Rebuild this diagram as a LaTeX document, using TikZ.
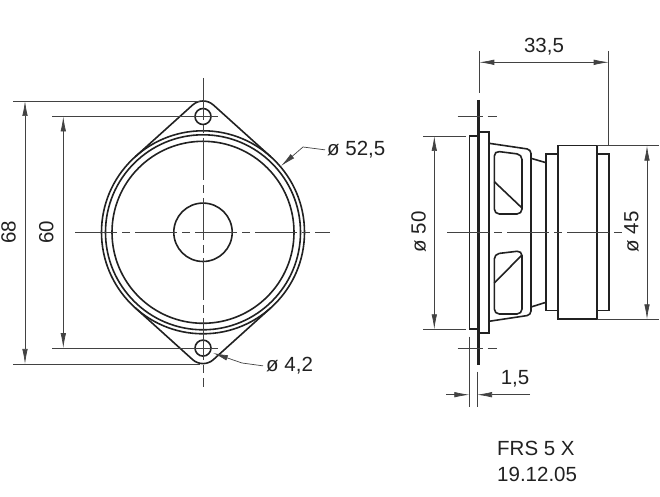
\documentclass[tikz,border=0pt]{standalone}
\usepackage{fontspec}
\setmainfont{Liberation Sans}
\usetikzlibrary{arrows.meta}
\definecolor{inkline}{gray}{0.13}
\tikzset{
  outline/.style = {draw = inkline, line width = 1.6pt},
  plate/.style = {draw = inkline, line width = 3.4pt},
  thinline/.style = {draw = inkline!85, line width = 0.7pt},
  axisline/.style = {thinline, dash pattern = on 42pt off 5pt on 8pt off 5pt},
  tickline/.style = {thinline, dash pattern = on 25pt off 5pt on 10pt off 5pt},
  dimline/.style = {thinline, {Latex[length = 15pt, width = 5.5pt]}-{Latex[length = 15pt, width = 5.5pt]}},
  leaderline/.style = {thinline, -{Latex[length = 15pt, width = 5.5pt]}},
  dimtext/.style = {inner sep = 0pt, text = inkline, font = \fontsize{20.5}{24}\selectfont},
}
\begin{document}
\begin{tikzpicture}[x = 1pt, y = 1pt]
    \useasboundingbox (0, 0) rectangle (660, 497);

    % front view
    \draw [outline] (270.9, 340.1) -- (213.37, 392.02) arc [start angle = 48, end angle = 132, radius = 15.5] -- (135.1, 340.1);
    \draw [outline] (135.1, 189.3) -- (192.63, 137.38) arc [start angle = 228, end angle = 312, radius = 15.5] -- (270.9, 189.3);
    \draw [outline] (203, 264.7) circle [radius = 101.5];
    \draw [outline] (203, 264.7) circle [radius = 97.5];
    \draw [outline] (203, 264.7) circle [radius = 91];
    \draw [outline] (203, 264.7) circle [radius = 29.2];
    \draw [outline] (203, 380.5) circle [radius = 8];
    \draw [outline] (203, 148.9) circle [radius = 8];

    \draw [axisline] (75, 264.7) -- (330, 264.7);
    \draw [axisline] (203, 419) -- (203, 110);

    \draw [thinline] (13, 396) -- (200, 396);
    \draw [thinline] (13, 133) -- (200, 133);
    \draw [thinline] (52, 380.5) -- (218, 380.5);
    \draw [thinline] (52, 148.9) -- (218, 148.9);
    \draw [dimline] (25, 396) -- (25, 133);
    \draw [dimline] (63.3, 380.5) -- (63.3, 148.9);

    \node (h68) [dimtext, rotate = 90, anchor = base] at (15.7, 264.7) {68};
    \node (h60) [dimtext, rotate = 90, anchor = base] at (53.3, 264.7) {60};
    \node (d525) [dimtext, anchor = base west] at (327, 341.3) {ø 52,5};
    \node (d42) [dimtext, anchor = base west] at (266, 125.3) {ø 4,2};

    \draw [leaderline] (d525.west) ++(-2, 0) -- (303, 350) -- (281, 331);
    \draw [leaderline] (d42.west) ++(-3, 0) -- (242, 134) -- (213, 144);

    % side view
    \draw [outline] (478, 361) rectangle (469.3, 167.7);
    \draw [outline] (478, 364.7) -- (489, 364.7) -- (489, 163.7) -- (478, 163.7);
    \draw [outline, rounded corners = 4pt] (489, 353.7) -- (531, 347.5) -- (531, 182) -- (489, 175.7);
    \draw [outline] (531, 338.7) -- (546, 334.3);
    \draw [outline] (531, 190) -- (546, 194.7);
    \draw [outline] (546, 342.7) rectangle (558, 186.3);
    \draw [outline] (558, 351.3) rectangle (597, 177.7);
    \draw [outline] (597, 342.7) rectangle (609, 186.3);
    \draw [plate] (478.3, 397) -- (478.3, 132);

    \draw [outline, rounded corners = 5pt] (494.3, 346) -- (522, 342.5) -- (522, 283) -- (494.3, 283) -- cycle;
    \draw [outline] (494.3, 315.3) -- (522, 289);
    \draw [outline, rounded corners = 5pt] (494.3, 183) -- (522, 183) -- (522, 246.3) -- (494.3, 243) -- cycle;
    \draw [outline] (494.3, 214) -- (522, 242);

    \draw [axisline] (447, 264.7) -- (623, 264.7);
    \draw [tickline] (457.7, 380.7) -- (497, 380.7);
    \draw [tickline] (457.7, 149) -- (497, 149);

    % dimensions of the side view
    \draw [thinline] (479.3, 446) -- (479.3, 404);
    \draw [thinline] (608.7, 446) -- (608.7, 351.3);
    \draw [dimline] (479.3, 434.7) -- (608.7, 434.7);
    \node (w335) [dimtext, anchor = base] at (544, 444.3) {33,5};

    \draw [thinline] (423, 361) -- (466, 361);
    \draw [thinline] (423, 167.7) -- (466, 167.7);
    \draw [dimline] (434.3, 361) -- (434.3, 167.7);
    \node (d50) [dimtext, rotate = 90, anchor = base] at (425.7, 265) {ø 50};

    \draw [thinline] (597, 351.3) -- (659, 351.3);
    \draw [thinline] (597, 177.7) -- (659, 177.7);
    \draw [dimline] (647, 351.3) -- (647, 177.7);
    \node (d45) [dimtext, rotate = 90, anchor = base] at (638.3, 265) {ø 45};

    \draw [thinline] (469.3, 160.3) -- (469.3, 90.3);
    \draw [thinline] (477, 125.3) -- (477, 90.3);
    \draw [leaderline] (446, 102.3) -- (469.3, 102.3);
    \draw [leaderline] (530, 102.3) -- (477, 102.3);
    \node (t15) [dimtext, anchor = base] at (515, 112) {1,5};

    \node (name) [dimtext, anchor = base west] at (497, 41) {FRS 5 X};
    \node (date) [dimtext, anchor = base west] at (497, 16) {19.12.05};
\end{tikzpicture}
\end{document}
